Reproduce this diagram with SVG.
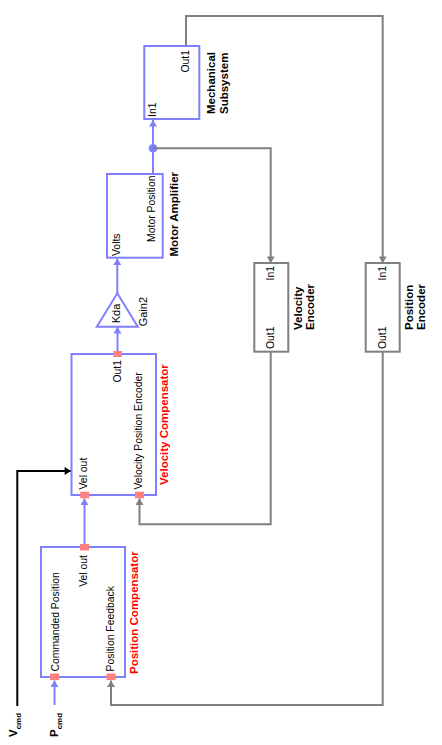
<svg xmlns="http://www.w3.org/2000/svg" width="442" height="745" viewBox="0 0 442 745">
<defs>
<style>
.bb{fill:#fff;stroke:#8080ff;stroke-width:2}
.gb{fill:#fff;stroke:#808080;stroke-width:2}
.bl{fill:none;stroke:#8080ff;stroke-width:2}
.gl{fill:none;stroke:#808080;stroke-width:2}
.kl{fill:none;stroke:#000;stroke-width:2}
.pt{fill:#ff8080}
.t{font-family:"Liberation Sans",Arial,sans-serif;font-size:10.4px;fill:#000}
.tb{font-family:"Liberation Sans",Arial,sans-serif;font-size:11.5px;font-weight:bold;fill:#000}
.tr{font-family:"Liberation Sans",Arial,sans-serif;font-size:11.5px;font-weight:bold;fill:#ff0000}
.tg{font-family:"Liberation Sans",Arial,sans-serif;font-size:11px;fill:#000}
.e{text-anchor:end}
</style>
<marker id="ab" markerWidth="10" markerHeight="8" refX="8" refY="5" orient="auto" markerUnits="userSpaceOnUse" viewBox="0 0 8 10"><path d="M0,0 L8,5 L0,10 Z" fill="#8080ff"/></marker>
<marker id="ag" markerWidth="10" markerHeight="8" refX="8" refY="5" orient="auto" markerUnits="userSpaceOnUse" viewBox="0 0 8 10"><path d="M0,0 L8,5 L0,10 Z" fill="#808080"/></marker>
<marker id="ak" markerWidth="9" markerHeight="8" refX="8" refY="5" orient="auto" markerUnits="userSpaceOnUse" viewBox="0 0 8 10"><path d="M0,0 L8,5 L0,10 Z" fill="#000"/></marker>
</defs>
<rect width="442" height="745" fill="#fff"/>

<g id="connectors">
<path class="bl" d="M153,174 V120" marker-end="url(#ab)"/>
<circle cx="153" cy="148.3" r="4.3" fill="#8080ff"/>
<path class="gl" d="M153,148.3 H270.7 V263" marker-end="url(#ag)"/>
<path class="gl" d="M186,46 V16 H382.7 V263" marker-end="url(#ag)"/>
<path class="bl" d="M117.3,294 V258.5" marker-end="url(#ab)"/>
<path class="bl" d="M117.5,354 V327" marker-end="url(#ab)"/>
<path class="bl" d="M84.5,547 V498.5" marker-end="url(#ab)"/>
<path class="gl" d="M270.7,352 V524.3 H139.5 V498.5" marker-end="url(#ag)"/>
<path class="kl" d="M17.3,706 V471 H71" marker-end="url(#ak)"/>
<path class="bl" d="M54.5,705 V680.5" marker-end="url(#ab)"/>
<path class="gl" d="M382.7,352 V705 H111 V680.5" marker-end="url(#ag)"/>
</g>

<g id="mechanical">
<rect class="bb" x="144.3" y="46" width="55" height="73"/>
<text class="t" transform="translate(156,117) rotate(-90)">In1</text>
<text class="t e" transform="translate(189,50) rotate(-90)">Out1</text>
<text class="tb" transform="translate(215,114) rotate(-90)">Mechanical</text>
<text class="tb" transform="translate(227.6,114) rotate(-90)">Subsystem</text>
</g>

<g id="motor-amplifier">
<rect class="bb" x="107" y="174" width="55.7" height="83.7"/>
<text class="t" transform="translate(119.5,256) rotate(-90)">Volts</text>
<text class="t e" transform="translate(155,175.5) rotate(-90)">Motor Position</text>
<text class="tb" transform="translate(177.6,256.5) rotate(-90)">Motor Amplifier</text>
</g>

<g id="gain2">
<path class="bb" d="M117.3,293.3 L137.8,326.7 L96.8,326.7 Z"/>
<text class="tg" transform="translate(119.5,323.3) rotate(-90)">Kda</text>
<text class="tg" transform="translate(147.3,326.3) rotate(-90)">Gain2</text>
</g>

<g id="velocity-encoder">
<rect class="gb" x="254.3" y="263" width="34" height="88.7"/>
<text class="t e" transform="translate(274,266) rotate(-90)">In1</text>
<text class="t" transform="translate(274,349) rotate(-90)">Out1</text>
<text class="tb" transform="translate(301.6,330) rotate(-90)">Velocity</text>
<text class="tb" transform="translate(314.3,330) rotate(-90)">Encoder</text>
</g>

<g id="position-encoder">
<rect class="gb" x="365.7" y="263" width="34" height="88.7"/>
<text class="t e" transform="translate(386,266) rotate(-90)">In1</text>
<text class="t" transform="translate(386,349) rotate(-90)">Out1</text>
<text class="tb" transform="translate(413.3,330) rotate(-90)">Position</text>
<text class="tb" transform="translate(425.3,330) rotate(-90)">Encoder</text>
</g>

<g id="velocity-compensator">
<rect class="bb" x="71.5" y="354" width="84.5" height="141"/>
<rect class="pt" x="113.3" y="351" width="8.6" height="6"/>
<rect class="pt" x="80.2" y="491.7" width="9" height="6.6"/>
<rect class="pt" x="135" y="491.7" width="9" height="6.6"/>
<text class="t e" transform="translate(121,360) rotate(-90)">Out1</text>
<text class="t" transform="translate(87,489.5) rotate(-90)">Vel out</text>
<text class="t" transform="translate(141.5,489.5) rotate(-90)">Velocity Position Encoder</text>
<text class="tr" transform="translate(167.6,485) rotate(-90)">Velocity Compensator</text>
</g>

<g id="position-compensator">
<rect class="bb" x="41" y="547" width="84" height="130"/>
<rect class="pt" x="80" y="544" width="9" height="6.5"/>
<rect class="pt" x="50" y="673.5" width="9.2" height="6.6"/>
<rect class="pt" x="106.5" y="673.5" width="9.2" height="6.6"/>
<text class="t e" transform="translate(86.7,555) rotate(-90)">Vel out</text>
<text class="t" transform="translate(58.6,671.5) rotate(-90)">Commanded Position</text>
<text class="t" transform="translate(113.6,671.5) rotate(-90)">Position Feedback</text>
<text class="tr" transform="translate(137.6,674) rotate(-90)">Position Compensator</text>
</g>

<g id="vcmd">
<text class="tb" transform="translate(17.3,737) rotate(-90)">V<tspan dy="3.3" font-size="8px">cmd</tspan></text>
</g>
<g id="pcmd">
<text class="tb" transform="translate(58.3,737) rotate(-90)">P<tspan dy="3.3" font-size="8px">cmd</tspan></text>
</g>
</svg>
